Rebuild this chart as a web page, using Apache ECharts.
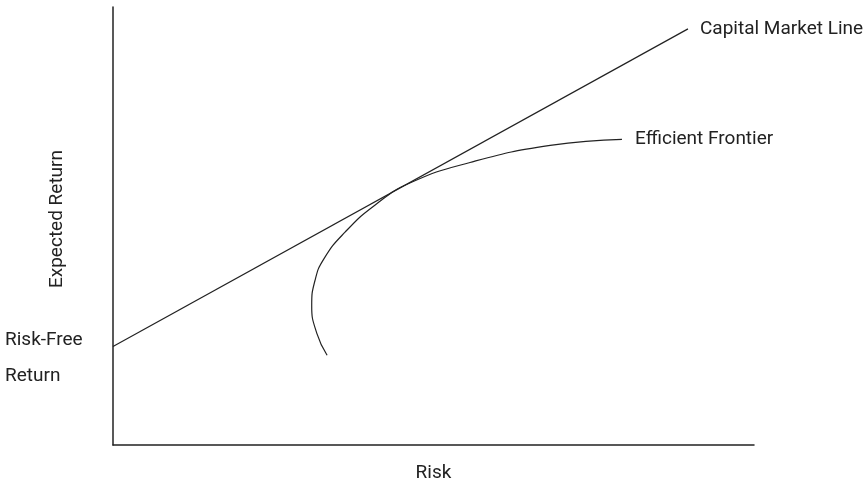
<!DOCTYPE html>
<html><head><meta charset="utf-8">
<script src="https://cdn.jsdelivr.net/npm/echarts@6/dist/echarts.min.js"></script>
<style>html,body{margin:0;padding:0;background:#fff}#c{width:867px;height:488px}</style>
</head><body><div id="c"></div>
<script>
// Capital Market Line: [risk, expected return]
const cmlPoints = [[0, 2.25], [8.97, 9.50]];
// Efficient frontier
const frontierRisk =   [3.34, 3.18, 3.10, 3.15, 3.29, 3.62, 4.09, 4.63, 5.57, 6.82, 7.94];
const frontierReturn = [2.05, 2.55, 3.18, 3.75, 4.25, 4.86, 5.48, 5.98, 6.45, 6.84, 6.98];
const riskFreeRate = 2.25;
const labels = {cml: 'Capital Market Line', frontier: 'Efficient Frontier', x: 'Risk', y: 'Expected Return', rf: ['Risk-Free', 'Return']};

const FONT = 'Roboto, sans-serif';
const FS = 19;
const chart = echarts.init(document.getElementById('c'));
const frontier = frontierRisk.map((x, i) => [x, frontierReturn[i]]);
const axisCommon = {
  axisTick: {show: false}, axisLabel: {show: false}, splitLine: {show: false},
  axisLine: {show: true, lineStyle: {color: '#222', width: 1.5}}
};
chart.setOption({
  animation: false,
  grid: {left: 113, right: 113, top: 7, bottom: 41},
  xAxis: Object.assign({type: 'value', min: 0, max: 10, name: labels.x, nameLocation: 'middle', nameGap: 19,
    nameTextStyle: {fontFamily: FONT, fontSize: FS, color: '#222'}}, axisCommon),
  yAxis: Object.assign({type: 'value', min: 0, max: 10, name: labels.y, nameLocation: 'middle', nameGap: 46,
    nameTextStyle: {fontFamily: FONT, fontSize: FS, color: '#222', padding: [0, 0, 0, 14]}}, axisCommon),
  series: [
    {type: 'line', name: labels.cml, data: cmlPoints, symbol: 'none',
     lineStyle: {color: '#222', width: 1.2},
     endLabel: {show: true, formatter: '{a}', distance: 12, fontFamily: FONT, fontSize: FS, color: '#222'}},
    {type: 'line', name: labels.frontier, data: frontier, symbol: 'none', smooth: 0.5,
     lineStyle: {color: '#222', width: 1.2},
     endLabel: {show: true, formatter: '{a}', distance: 13, fontFamily: FONT, fontSize: FS, color: '#222'}}
  ]
});
const p = chart.convertToPixel({gridIndex: 0}, [0, riskFreeRate]);
chart.setOption({
  graphic: [
    {type: 'text', x: 5, y: p[1] - 6, style: {text: labels.rf[0], font: FS + 'px ' + FONT, fill: '#222', verticalAlign: 'middle'}},
    {type: 'text', x: 5, y: p[1] + 30, style: {text: labels.rf[1], font: FS + 'px ' + FONT, fill: '#222', verticalAlign: 'middle'}}
  ]
});
</script></body></html>
